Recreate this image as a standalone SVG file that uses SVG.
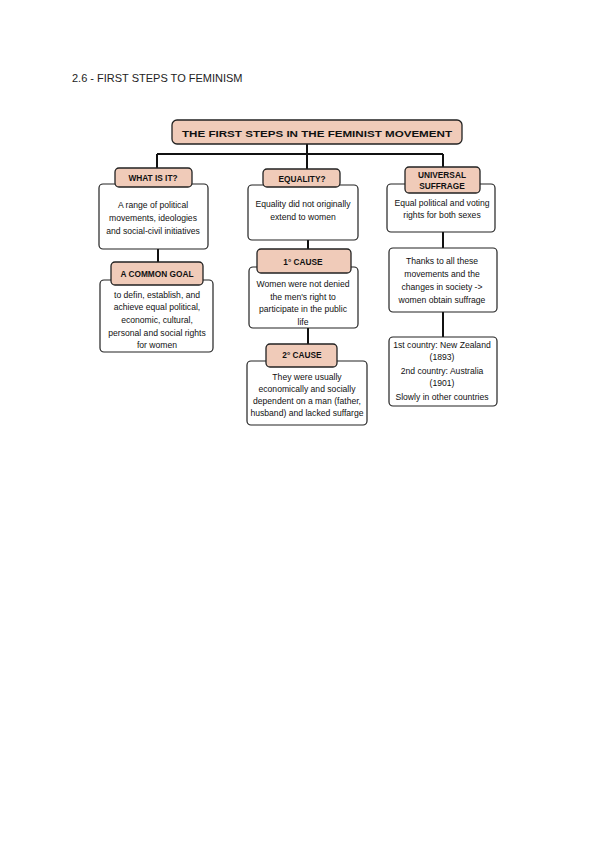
<svg xmlns="http://www.w3.org/2000/svg" width="599" height="848" viewBox="0 0 599 848">
<style>
.bg{fill:#ffffff}
.hdr{font-family:"Liberation Sans",Arial,sans-serif;font-size:11px;fill:#222}
.lbl{fill:#f0cbb9;stroke:#222;stroke-width:1.3}
.box{fill:#ffffff;stroke:#222;stroke-width:1.2}
.lt{font-family:"Liberation Sans",Arial,sans-serif;font-weight:bold;font-size:8.3px;fill:#111;text-anchor:middle}
.bt{font-family:"Liberation Sans",Arial,sans-serif;font-size:8.6px;fill:#111;text-anchor:middle}
.con{stroke:#111;stroke-width:2;fill:none}
</style>
<rect class="bg" x="0" y="0" width="599" height="848"/>
<text class="hdr" x="72" y="82">2.6 - FIRST STEPS TO FEMINISM</text>

<g id="connectors">
<path class="con" d="M307,144 V154 M157,154 H443 M157,154 V169 M307,154 V169 M443,154 V167"/>
<path class="con" d="M158,249 V263"/>
<path class="con" d="M308,240 V250 M308,328 V345"/>
<path class="con" d="M443,232 V248 M443,312 V338"/>
</g>

<g id="title">
<rect class="lbl" x="172" y="120" width="290" height="24" rx="5"/>
<text class="lt" x="317" y="137" font-size="13.5" textLength="270" lengthAdjust="spacingAndGlyphs">THE FIRST STEPS IN THE FEMINIST MOVEMENT</text>
</g>

<g id="what-body">
<rect class="box" x="99" y="184" width="109" height="65" rx="4"/>
<text class="bt" x="153" y="208">A range of political</text>
<text class="bt" x="153" y="221">movements, ideologies</text>
<text class="bt" x="153" y="234">and social-civil initiatives</text>
</g>
<g id="what-label">
<rect class="lbl" x="115" y="168" width="77" height="19" rx="4"/>
<text class="lt" x="153" y="181">WHAT IS IT?</text>
</g>

<g id="goal-body">
<rect class="box" x="100" y="280" width="113" height="72" rx="4"/>
<text class="bt" x="157" y="298">to defin, establish, and</text>
<text class="bt" x="157" y="310">achieve equal political,</text>
<text class="bt" x="157" y="323">economic, cultural,</text>
<text class="bt" x="157" y="336">personal and social rights</text>
<text class="bt" x="157" y="348">for women</text>
</g>
<g id="goal-label">
<rect class="lbl" x="111" y="262" width="92" height="23" rx="4"/>
<text class="lt" x="157" y="277">A COMMON GOAL</text>
</g>

<g id="equality-body">
<rect class="box" x="248" y="185" width="110" height="55" rx="4"/>
<text class="bt" x="303" y="207">Equality did not originally</text>
<text class="bt" x="303" y="220">extend to women</text>
</g>
<g id="equality-label">
<rect class="lbl" x="263" y="169" width="77" height="18" rx="4"/>
<text class="lt" x="302" y="182">EQUALITY?</text>
</g>

<g id="cause1-body">
<rect class="box" x="249" y="267" width="109" height="61" rx="4"/>
<text class="bt" x="303" y="287">Women were not denied</text>
<text class="bt" x="303" y="300">the men's right to</text>
<text class="bt" x="303" y="312">participate in the public</text>
<text class="bt" x="303" y="325">life</text>
</g>
<g id="cause1-label">
<rect class="lbl" x="257" y="249" width="94" height="24" rx="4"/>
<text class="lt" x="303" y="265">1° CAUSE</text>
</g>

<g id="cause2-body">
<rect class="box" x="247" y="361" width="120" height="64" rx="4"/>
<text class="bt" x="307" y="380">They were usually</text>
<text class="bt" x="307" y="392">economically and socially</text>
<text class="bt" x="307" y="404">dependent on a man (father,</text>
<text class="bt" x="307" y="416">husband) and lacked suffarge</text>
</g>
<g id="cause2-label">
<rect class="lbl" x="266" y="344" width="71" height="23" rx="4"/>
<text class="lt" x="302" y="358">2° CAUSE</text>
</g>

<g id="suffrage-body">
<rect class="box" x="387" y="184" width="108" height="48" rx="4"/>
<text class="bt" x="442" y="206">Equal political and voting</text>
<text class="bt" x="442" y="218">rights for both sexes</text>
</g>
<g id="suffrage-label">
<rect class="lbl" x="405" y="167" width="75" height="26" rx="4"/>
<text class="lt" x="442" y="178" font-size="7.5">UNIVERSAL</text>
<text class="lt" x="442" y="189" font-size="7.5">SUFFRAGE</text>
</g>

<g id="thanks">
<rect class="box" x="389" y="248" width="108" height="64" rx="4"/>
<text class="bt" x="442" y="264">Thanks to all these</text>
<text class="bt" x="442" y="277">movements and the</text>
<text class="bt" x="442" y="290">changes in society -&gt;</text>
<text class="bt" x="442" y="303">women obtain suffrage</text>
</g>

<g id="countries">
<rect class="box" x="389" y="337" width="108" height="69" rx="4"/>
<text class="bt" x="442" y="348">1st country: New Zealand</text>
<text class="bt" x="442" y="360">(1893)</text>
<text class="bt" x="442" y="374">2nd country: Australia</text>
<text class="bt" x="442" y="386">(1901)</text>
<text class="bt" x="442" y="400">Slowly in other countries</text>
</g>
</svg>
